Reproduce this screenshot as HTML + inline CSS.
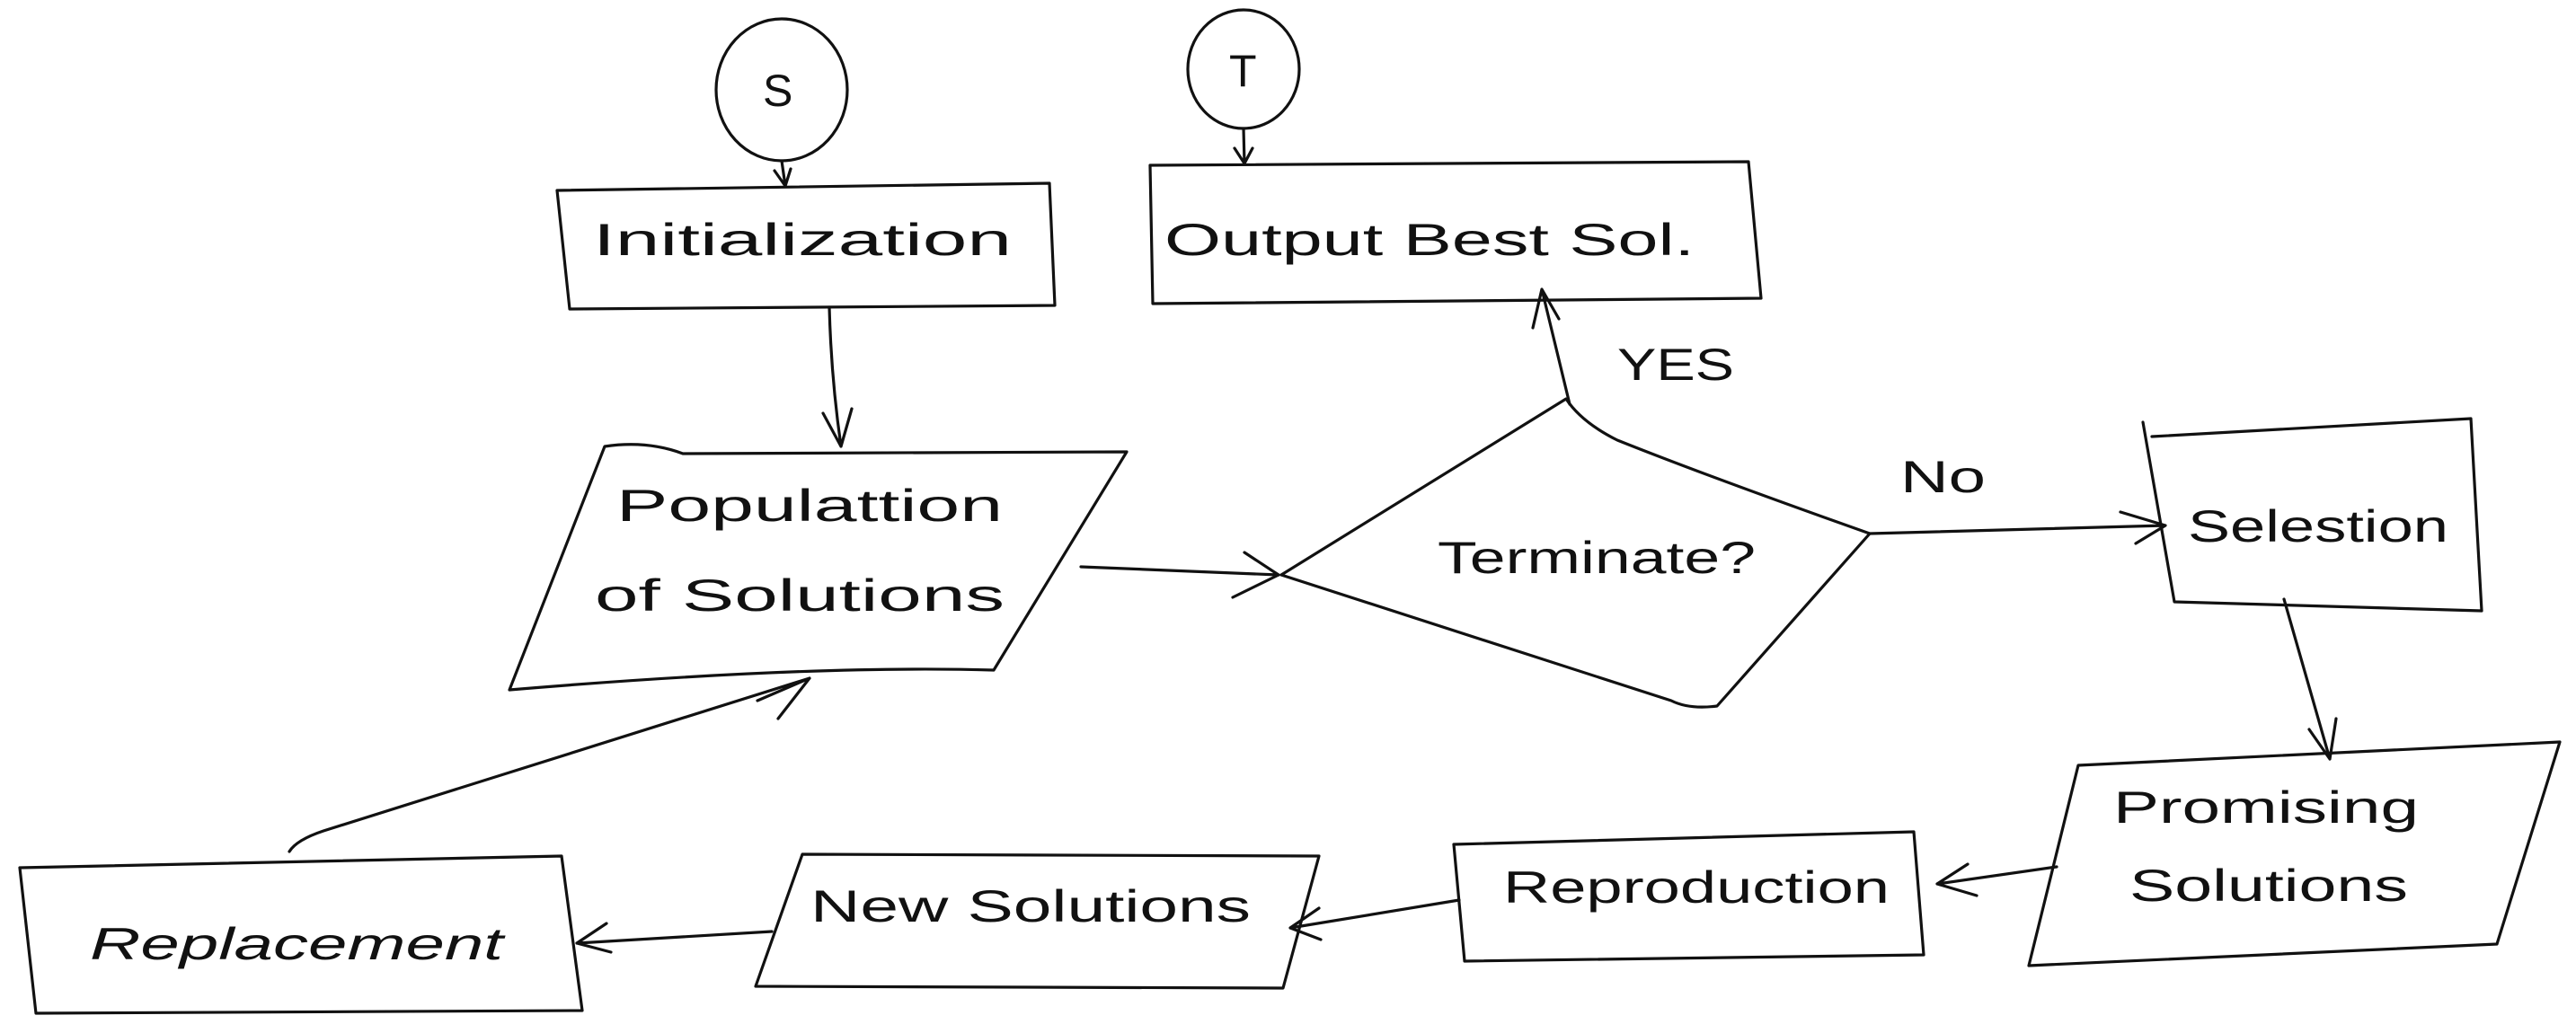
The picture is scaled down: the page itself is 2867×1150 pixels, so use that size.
<!DOCTYPE html>
<html><head><meta charset="utf-8"><style>
html,body{margin:0;padding:0;background:#fff;}
svg{display:block;}
text{font-family:"Liberation Sans",sans-serif;fill:#111;font-size:50px;}
</style></head><body>
<svg width="2867" height="1150" viewBox="0 0 2867 1150" xmlns="http://www.w3.org/2000/svg">
<g fill="none" stroke="#111" stroke-width="3.2" stroke-linecap="round" stroke-linejoin="round">
<ellipse cx="870" cy="100" rx="73" ry="79"/>
<path d="M870 179 L874 207 M862 190 L874 207 L880 188"/>
<ellipse cx="1384" cy="77" rx="62" ry="66"/>
<path d="M1384 143 L1385 182 M1374 165 L1385 182 L1394 165"/>
<path d="M620 212 L1168 204 L1174 340 L634 344 Z"/>
<path d="M1280 184 L1946 180 L1960 332 L1283 338 Z"/>
<path d="M673 497 Q720 490 760 505 L1254 503 L1106 746 Q900 740 567 768 Z"/>
<path d="M923 342 Q925 420 936 497 M916 460 L936 497 L948 455"/>
<path d="M1203 631 L1423 640 M1385 615 L1423 640 L1372 665"/>
<path d="M1426 640 L1743 444 Q1760 470 1800 490 Q1900 530 2081 594 L1911 786 Q1880 790 1860 780 L1426 640"/>
<path d="M1747 450 L1716 322 M1706 365 L1716 322 L1735 355"/>
<path d="M2081 594 L2410 585 M2360 570 L2410 585 L2377 605"/>
<path d="M2395 486 L2750 466 L2762 680 L2420 670 L2385 470"/>
<path d="M2542 667 L2593 845 M2570 812 L2593 845 L2600 800"/>
<path d="M2313 852 L2849 826 L2779 1051 L2258 1075 Z"/>
<path d="M2289 965 L2156 984 M2190 962 L2156 984 L2200 997"/>
<path d="M1618 940 L2130 926 L2141 1063 L1630 1070 Z"/>
<path d="M1624 1002 L1436 1033 M1468 1011 L1436 1033 L1470 1046"/>
<path d="M893 951 L1468 953 L1428 1100 L841 1098 Z"/>
<path d="M859 1037 L642 1050 M675 1028 L642 1050 L680 1060"/>
<path d="M22 966 L625 953 L648 1125 L40 1128 Z"/>
<path d="M322 948 Q330 935 360 925 L901 755 M843 780 L901 755 L866 800"/>
</g>
<text x="660" y="284" textLength="466" lengthAdjust="spacingAndGlyphs">Initialization</text>
<text x="1296" y="284" textLength="590" lengthAdjust="spacingAndGlyphs">Output Best Sol.</text>
<text x="686" y="580" textLength="430" lengthAdjust="spacingAndGlyphs">Populattion</text>
<text x="662" y="680" textLength="456" lengthAdjust="spacingAndGlyphs">of Solutions</text>
<text x="1600" y="638" textLength="354" lengthAdjust="spacingAndGlyphs">Terminate?</text>
<text x="1800" y="423" textLength="130" lengthAdjust="spacingAndGlyphs">YES</text>
<text x="2115" y="548" textLength="95" lengthAdjust="spacingAndGlyphs">No</text>
<text x="2435" y="603" textLength="290" lengthAdjust="spacingAndGlyphs">Selestion</text>
<text x="2352" y="916" textLength="340" lengthAdjust="spacingAndGlyphs">Promising</text>
<text x="2370" y="1003" textLength="310" lengthAdjust="spacingAndGlyphs">Solutions</text>
<text x="1673" y="1005" textLength="430" lengthAdjust="spacingAndGlyphs">Reproduction</text>
<text x="902" y="1026" textLength="490" lengthAdjust="spacingAndGlyphs">New Solutions</text>
<text x="100" y="1068" textLength="460" lengthAdjust="spacingAndGlyphs" font-style="italic">Replacement</text>
<text x="849" y="118" font-size="56">S</text>
<text x="1368" y="96" font-size="56">T</text>
</svg>
</body></html>
